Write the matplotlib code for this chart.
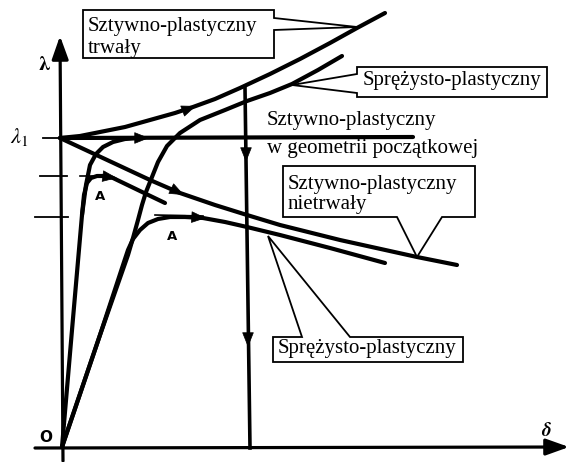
import numpy as np
import matplotlib.pyplot as plt
from matplotlib.patches import Polygon

plt.rcParams['font.family'] = ['Liberation Serif', 'DejaVu Serif']
plt.rcParams['mathtext.fontset'] = 'stix'

# curve points (pixel coords, y down)
trwaly_x = [60, 80, 100, 125, 150, 175, 193, 215, 240, 270, 300, 330, 357, 385]
trwaly_y = [138, 136, 132, 127, 120, 113, 107, 99, 88, 74, 59, 43, 28, 13]

poczatkowa_x = [60, 413]
poczatkowa_y = [138, 137]

nietrwaly_x = [60, 90, 120, 150, 180, 215, 247, 280, 340, 417, 457]
nietrwaly_y = [138, 152, 166, 180, 193, 205, 215, 225, 240, 257, 265]

spr_gora_x = [62, 100, 128, 133, 138, 142, 146, 152, 158, 167, 180, 200, 225, 247, 270, 292, 318, 342]
spr_gora_y = [447, 335, 255, 238, 220, 205, 192, 177, 162, 146, 133, 120, 110, 101, 93, 84, 70, 56]

spr_dol_x = [62, 100, 124, 128, 133, 140, 148, 158, 170, 185, 203, 225, 247, 280, 330, 385]
spr_dol_y = [447, 335, 262, 250, 239, 230, 223, 219, 217, 217, 218, 222, 227, 235, 248, 263]

kolano_x = [62, 72, 82, 84, 87, 91, 97, 105, 113, 140, 165]
kolano_y = [447, 330, 215, 195, 183, 178, 176, 176, 178, 191, 203]

galaz_x = [82, 86, 90, 96, 103, 113, 125, 140]
galaz_y = [215, 185, 165, 154, 147, 142, 139, 138]

pion_x = [245, 250]
pion_y = [88, 448]

ticks_y = [138, 176, 217]
ticks_x0 = [43, 40, 35]
ticks_x1 = [62, 67, 68]

fig = plt.figure(figsize=(5.69, 4.62), dpi=100)
ax = fig.add_axes([0, 0, 1, 1])
ax.set_xlim(0, 569)
ax.set_ylim(462, 0)
ax.axis('off')

lw = 3.0
# axes with arrows
ax.annotate('', xy=(60, 36), xytext=(63, 461),
            arrowprops=dict(arrowstyle='-|>,head_length=1.4,head_width=0.5',
                            mutation_scale=10, lw=2.3, color='k', shrinkA=0, shrinkB=0))
ax.annotate('', xy=(569, 447), xytext=(35, 448),
            arrowprops=dict(arrowstyle='-|>,head_length=1.4,head_width=0.5',
                            mutation_scale=10, lw=2.3, color='k', shrinkA=0, shrinkB=0))
for ty, tx0, tx1 in zip(ticks_y, ticks_x0, ticks_x1):
    ax.plot([tx0, tx1], [ty, ty], color='k', lw=1.3)

ax.plot(trwaly_x, trwaly_y, color='k', lw=lw, solid_capstyle='round')
ax.plot(poczatkowa_x, poczatkowa_y, color='k', lw=lw, solid_capstyle='round')
ax.plot(nietrwaly_x, nietrwaly_y, color='k', lw=lw, solid_capstyle='round')
ax.plot(spr_gora_x, spr_gora_y, color='k', lw=lw, solid_capstyle='round')
ax.plot(spr_dol_x, spr_dol_y, color='k', lw=lw, solid_capstyle='round')
ax.plot(kolano_x, kolano_y, color='k', lw=lw, solid_capstyle='round')
ax.plot(galaz_x, galaz_y, color='k', lw=lw, solid_capstyle='round')
ax.plot(pion_x, pion_y, color='k', lw=2.6)

# thin tangent marks at the knees
ax.plot([80, 100], [176, 176], color='k', lw=1.2)
ax.plot([155, 203], [215, 216], color='k', lw=1.2)

# small arrows along the paths
strzalki = [((180, 112), (196, 106)), ((133, 138), (149, 138)), ((168, 187), (184, 195)),
            ((102, 176), (117, 178)), ((190, 217), (206, 218)),
            ((246, 146), (246, 162)), ((248, 331), (248, 347))]
for tail, tip in strzalki:
    ax.annotate('', xy=tip, xytext=tail,
                arrowprops=dict(arrowstyle='-|>,head_length=0.8,head_width=0.32',
                                mutation_scale=12, lw=0.5, color='k', shrinkA=0, shrinkB=0))

# callout boxes
callouts = [
    [(83, 10), (274, 10), (274, 18), (357, 27), (274, 30), (274, 58), (83, 58)],
    [(357, 67), (547, 67), (547, 97), (357, 97), (357, 93), (292, 85), (357, 74)],
    [(283, 166), (475, 166), (475, 217), (442, 217), (417, 257), (397, 217), (283, 217)],
    [(273, 337), (302, 337), (268, 236), (350, 337), (463, 337), (463, 362), (273, 362)],
]
for verts in callouts:
    ax.add_patch(Polygon(verts, closed=True, fc='white', ec='k', lw=1.3, zorder=5))

fs = 15
ax.text(88, 27, 'Sztywno-plastyczny', fontsize=fs, va='center', zorder=6)
ax.text(88, 49, 'trwały', fontsize=fs, va='center', zorder=6)
ax.text(363, 81, 'Sprężysto-plastyczny', fontsize=fs, va='center', zorder=6)
ax.text(267, 120, 'Sztywno-plastyczny', fontsize=fs, va='center', zorder=6)
ax.text(267, 148, 'w geometrii początkowej', fontsize=fs, va='center', zorder=6)
ax.text(288, 184, 'Sztywno-plastyczny', fontsize=fs, va='center', zorder=6)
ax.text(288, 205, 'nietrwały', fontsize=fs, va='center', zorder=6)
ax.text(278, 349, 'Sprężysto-plastyczny', fontsize=fs, va='center', zorder=6)

ax.text(45, 65, r'$\boldsymbol{\lambda}$', fontsize=15, ha='center', va='center')
ax.text(19, 137, r'$\lambda_1$', fontsize=16, ha='center', va='center')
ax.text(546, 431, r'$\boldsymbol{\delta}$', fontsize=14, ha='center', va='center')
ax.text(46, 437, 'O', fontsize=11, family='DejaVu Sans', fontweight='bold', ha='center', va='center')
ax.text(100, 197, 'A', fontsize=9.5, family='DejaVu Sans', fontweight='bold', ha='center', va='center')
ax.text(172, 237, 'A', fontsize=9.5, family='DejaVu Sans', fontweight='bold', ha='center', va='center')

fig.savefig('out.png', dpi=100)
